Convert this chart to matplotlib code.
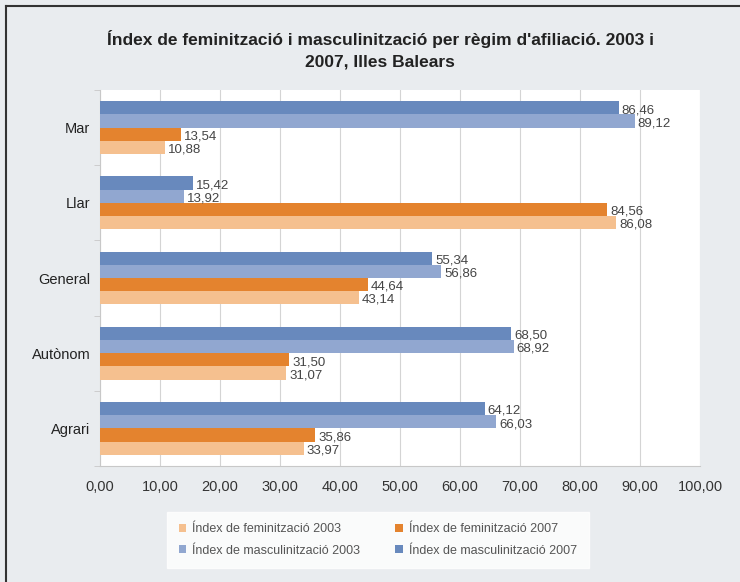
import matplotlib
matplotlib.use("Agg")
import matplotlib.pyplot as plt
from matplotlib.lines import Line2D
import numpy as np

categories = ["Agrari", "Autònom", "General", "Llar", "Mar"]
fem_2003 = [33.97, 31.07, 43.14, 86.08, 10.88]
fem_2007 = [35.86, 31.50, 44.64, 84.56, 13.54]
masc_2003 = [66.03, 68.92, 56.86, 13.92, 89.12]
masc_2007 = [64.12, 68.50, 55.34, 15.42, 86.46]

series = [
    ("Índex de feminització 2003", fem_2003, "#f5c08f"),
    ("Índex de feminització 2007", fem_2007, "#e4832e"),
    ("Índex de masculinització 2003", masc_2003, "#91a7d0"),
    ("Índex de masculinització 2007", masc_2007, "#6889bd"),
]

bg = "#e9ecef"
plt.rcParams["font.family"] = ["Liberation Sans", "DejaVu Sans"]

fig = plt.figure(figsize=(7.4, 5.82), dpi=100, facecolor=bg)
# dark frame on the left and top edges
fx, fy = 5.5 / 740, 1 - 5.5 / 582
fig.lines.append(Line2D([fx, fx], [0, fy], transform=fig.transFigure, color="#333333", lw=1.5))
fig.lines.append(Line2D([fx, 1], [fy, fy], transform=fig.transFigure, color="#333333", lw=1.5))

ax = fig.add_axes([100 / 740, 1 - 466 / 582, 600 / 740, 376 / 582])
ax.set_facecolor("white")

y = np.arange(len(categories))
h = 0.175
offsets = [-1.5 * h, -0.5 * h, 0.5 * h, 1.5 * h]
for (name, vals, col), off in zip(series, offsets):
    ax.barh(y + off, vals, height=h, color=col, label=name, zorder=3)
    for yi, v in zip(y, vals):
        ax.text(v + 0.5, yi + off - 0.03, f"{v:.2f}".replace(".", ","), va="center",
                ha="left", fontsize=9.5, color="#444444", zorder=4)

ax.set_xlim(0, 100)
ax.set_ylim(-0.5, len(categories) - 0.5)
ax.set_xticks(np.arange(0, 101, 10))
ax.set_xticklabels([f"{t:.2f}".replace(".", ",") for t in range(0, 101, 10)])
ax.set_yticks(y)
ax.set_yticklabels(categories)
ax.set_yticks(np.arange(-0.5, len(categories), 1), minor=True)
ax.tick_params(axis="y", which="major", length=0, pad=7, labelsize=10.5, labelcolor="#222222")
ax.tick_params(axis="y", which="minor", length=4, color="#c8c8c8")
ax.tick_params(axis="x", length=0, pad=10, labelsize=10.5, labelcolor="#333333")
ax.grid(axis="x", color="#d4d4d4", linewidth=0.8, zorder=0)
for s in ["top", "right"]:
    ax.spines[s].set_visible(False)
ax.spines["left"].set_color("#c8c8c8")
ax.spines["bottom"].set_color("#c8c8c8")

fig.text(0.514, 1 - 50 / 582, "Índex de feminització i masculinització per règim d'afiliació. 2003 i\n2007, Illes Balears",
         ha="center", va="center", fontsize=12.5, fontweight="bold", color="#222222",
         linespacing=1.5)

handles, labels = ax.get_legend_handles_labels()
order = [0, 2, 1, 3]  # row-wise: feminització on top, masculinització below
leg = fig.legend([handles[i] for i in order], [labels[i] for i in order], loc="center",
                 bbox_to_anchor=(378 / 740, 1 - 540 / 582),
                 ncol=2, frameon=True, fancybox=False,
                 prop={"size": 9},
                 handlelength=0.6, handleheight=0.6, handletextpad=0.5,
                 columnspacing=2.8, borderpad=0.9, labelspacing=0.75, borderaxespad=0)
leg.get_frame().set_facecolor("white")
leg.get_frame().set_edgecolor("white")
for t in leg.get_texts():
    t.set_color("#555555")

fig.savefig("out.png", dpi=100, facecolor=bg)
